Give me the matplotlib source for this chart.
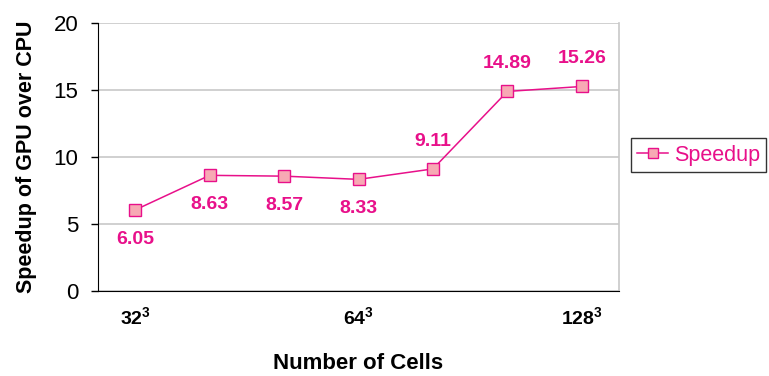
import matplotlib
matplotlib.use('Agg')
import matplotlib.pyplot as plt

plt.rcParams['font.family'] = ['Liberation Sans', 'DejaVu Sans']
plt.rcParams['mathtext.fontset'] = 'custom'
plt.rcParams['mathtext.rm'] = 'Liberation Sans'
plt.rcParams['mathtext.bf'] = 'Liberation Sans:bold'

# speedup measurements, one per grid size
runs = [1, 2, 3, 4, 5, 6, 7]
speedup = [6.05, 8.63, 8.57, 8.33, 9.11, 14.89, 15.26]
tick_pos = [1, 4, 7]
tick_labels = [r'$\mathbf{32^{3}}$', r'$\mathbf{64^{3}}$', r'$\mathbf{128^{3}}$']
yticks = [0, 5, 10, 15, 20]

pink = '#E8108A'
face = '#F7A9B4'

fig = plt.figure(figsize=(7.69, 3.76), dpi=100)
ax = fig.add_axes([0.1274, 0.226, 0.6776, 0.713])

ax.plot(runs, speedup, color=pink, lw=1.1, marker='s', ms=9,
        mfc=face, mec=pink, mew=1.0, label='Speedup', zorder=3)

# values under the first four points, above the rest
for i, (x, v) in enumerate(zip(runs, speedup)):
    dy = -21 if i < 4 else 20
    ax.annotate(f'{v:.2f}', (x, v), xytext=(0, dy), textcoords='offset points',
                ha='center', va='center', color=pink, fontsize=14, fontweight='bold')

ax.set_xlim(0.5, 7.5)
ax.set_ylim(0, 20)
ax.set_yticks(yticks)
ax.set_xticks(tick_pos)
ax.set_xticklabels(tick_labels, fontsize=14)
ax.tick_params(axis='x', length=0, pad=11)
ax.tick_params(axis='y', length=5, width=1, labelsize=16, pad=9, direction='out')
ax.grid(axis='y', color='#c8c8c8', lw=1.2)
ax.set_axisbelow(True)

ax.spines['top'].set_visible(False)
ax.spines['right'].set_color('#c8c8c8')
ax.spines['right'].set_linewidth(1.2)
ax.spines['left'].set_color('black')
ax.spines['bottom'].set_color('black')

ax.set_ylabel('Speedup of GPU over CPU', fontweight='bold', fontsize=15.5, labelpad=12)
ax.set_xlabel('Number of Cells', fontweight='bold', fontsize=16, labelpad=18)

leg = fig.legend(loc='center left', bbox_to_anchor=(0.806, 0.587), frameon=True,
                 fancybox=False, edgecolor='black', fontsize=15.5, handlelength=1.45,
                 handletextpad=0.25, borderpad=0.3, markerscale=0.8)
leg.get_frame().set_linewidth(1.0)
for t in leg.get_texts():
    t.set_color(pink)

fig.savefig('out.png', dpi=100)
